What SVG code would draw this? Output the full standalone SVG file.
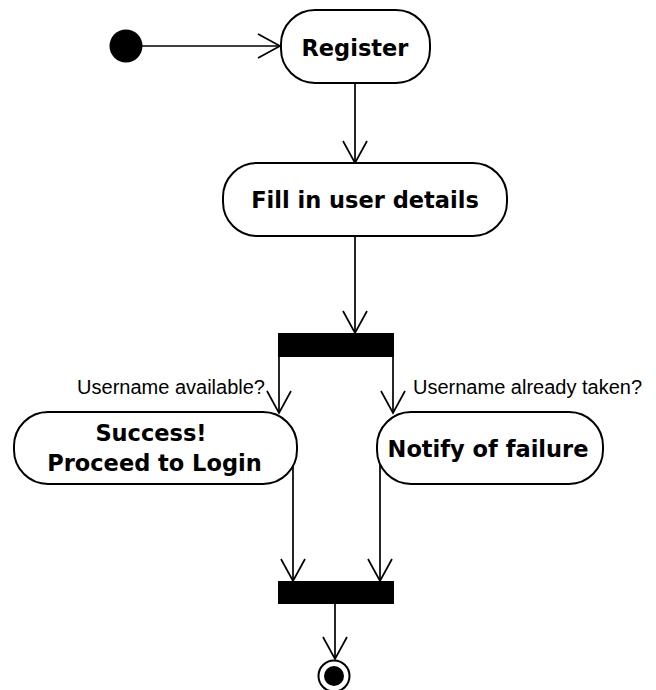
<svg xmlns="http://www.w3.org/2000/svg" width="656" height="690" viewBox="0 0 656 690">
<style>
.node{fill:#fff;stroke:#000;stroke-width:2}
.t{font-family:"DejaVu Sans",Verdana,sans-serif;font-weight:bold;font-size:22.5px;text-anchor:middle;fill:#000}
.lbl{font-family:"Liberation Sans",Arial,sans-serif;font-size:20px;fill:#000}
.c{fill:none;stroke:#000;stroke-width:1.7}
</style>
<defs>
<marker id="a" markerUnits="userSpaceOnUse" markerWidth="30" markerHeight="30" viewBox="-25 -15 30 30" refX="0" refY="0" orient="auto" overflow="visible">
<path d="M-22,-12 L0,0 L-22,12" fill="none" stroke="#000" stroke-width="1.7"/>
</marker>
</defs>
<g id="connectors">
<line class="c" x1="142" y1="46" x2="280" y2="46" marker-end="url(#a)"/>
<line class="c" x1="355" y1="83" x2="355" y2="163" marker-end="url(#a)"/>
<line class="c" x1="355" y1="236" x2="355" y2="333" marker-end="url(#a)"/>
<line class="c" x1="279" y1="357" x2="279" y2="413" marker-end="url(#a)"/>
<line class="c" x1="393" y1="357" x2="393" y2="413" marker-end="url(#a)"/>
<line class="c" x1="293" y1="460" x2="293" y2="581" marker-end="url(#a)"/>
<line class="c" x1="380" y1="460" x2="380" y2="581" marker-end="url(#a)"/>
<line class="c" x1="335" y1="604" x2="335" y2="659" marker-end="url(#a)"/>
<text class="lbl" x="265" y="394" text-anchor="end">Username available?</text>
<text class="lbl" x="413" y="394">Username already taken?</text>
</g>
<g id="start"><circle cx="126" cy="46" r="16.5" fill="#000"/></g>
<g id="register"><rect class="node" x="281" y="10" width="149" height="73" rx="34" ry="34"/><text class="t" x="355" y="56">Register</text></g>
<g id="fill"><rect class="node" x="223" y="163" width="284" height="73" rx="34" ry="34"/><text class="t" x="365" y="208">Fill in user details</text></g>
<g id="fork"><rect x="278" y="333" width="116" height="24" fill="#000"/></g>
<g id="success"><rect class="node" x="14" y="412" width="283" height="72" rx="34" ry="34"/><text class="t" x="151" y="441">Success!</text><text class="t" x="154.5" y="471">Proceed to Login</text></g>
<g id="notify"><rect class="node" x="377" y="412" width="226" height="72" rx="34" ry="34"/><text class="t" x="488" y="457">Notify of failure</text></g>
<g id="join"><rect x="278" y="581" width="116" height="23" fill="#000"/></g>
<g id="end"><circle cx="334" cy="676" r="15.5" fill="#fff" stroke="#000" stroke-width="2"/><circle cx="334" cy="676" r="10" fill="#000"/></g>
</svg>
